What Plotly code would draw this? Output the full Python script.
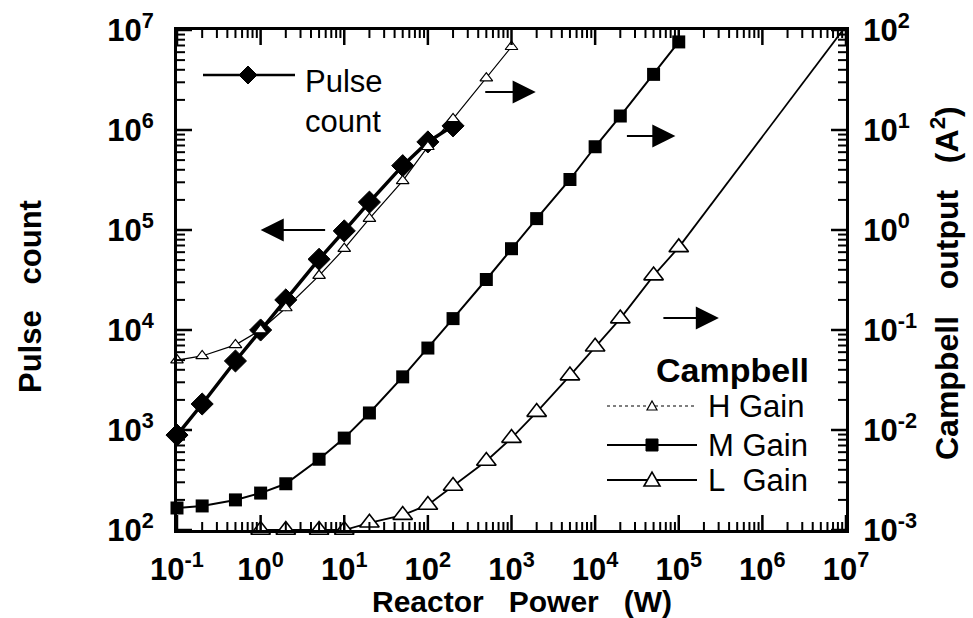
import math
import plotly.graph_objects as go

# ---------------- data ----------------
pulse_power = [0.1, 0.2, 0.5, 1, 2, 5, 10, 20, 50, 100, 200]
pulse_count = [890, 1820, 4900, 10000, 20000, 51000, 98000, 190000, 440000, 760000, 1100000]

h_power = [0.1, 0.2, 0.5, 1, 2, 5, 10, 20, 50, 100, 200, 500, 1000]
h_gain = [0.050, 0.055, 0.071, 0.10, 0.166, 0.35, 0.65, 1.3, 3.1, 6.8, 12.9, 33, 68]

m_power = [0.1, 0.2, 0.5, 1, 2, 5, 10, 20, 50, 100, 200, 500, 1e3, 2e3, 5e3, 1e4, 2e4, 5e4, 1e5]
m_gain = [0.00166, 0.00174, 0.0020, 0.00234, 0.0029, 0.0051, 0.0083, 0.0148, 0.034, 0.066,
          0.13, 0.32, 0.65, 1.3, 3.2, 6.8, 13.8, 36, 76]

l_power = [1, 2, 5, 10, 20, 50, 100, 200, 500, 1e3, 2e3, 5e3, 1e4, 2e4, 5e4, 1e5]
l_gain = [0.001, 0.001, 0.001, 0.001, 0.00118, 0.00141, 0.00178, 0.00275, 0.0049,
          0.0083, 0.0151, 0.035, 0.068, 0.13, 0.35, 0.67]

# straight-line extension of the L gain curve
l_fit_power = [1e5, 1e7]
l_fit_gain = [0.67, 110]

x_ticks = [1e-1, 1e0, 1e1, 1e2, 1e3, 1e4, 1e5, 1e6, 1e7]
x_ticktext = ["10<sup>-1</sup>", "10<sup>0</sup>", "10<sup>1</sup>", "10<sup>2</sup>", "10<sup>3</sup>",
              "10<sup>4</sup>", "10<sup>5</sup>", "10<sup>6</sup>", "10<sup>7</sup>"]
yl_ticks = [1e2, 1e3, 1e4, 1e5, 1e6, 1e7]
yl_ticktext = ["10<sup>2</sup>", "10<sup>3</sup>", "10<sup>4</sup>", "10<sup>5</sup>", "10<sup>6</sup>", "10<sup>7</sup>"]
yr_ticks = [1e-3, 1e-2, 1e-1, 1e0, 1e1, 1e2]
yr_ticktext = ["10<sup>-3</sup>", "10<sup>-2</sup>", "10<sup>-1</sup>", "10<sup>0</sup>", "10<sup>1</sup>", "10<sup>2</sup>"]

X_RANGE, YL_RANGE, YR_RANGE = [-1, 7], [2, 7], [-3, 2]

FONT = "Liberation Sans, Arial, Helvetica, sans-serif"

# plot-area geometry in pixels (for placing the hand-drawn legends / titles)
W, H = 973, 618
ML, MR, MT, MB = 177, 127, 30, 88
PW, PH = W - ML - MR, H - MT - MB


def px(xp):
    return (xp - ML) / PW


def py(yp):
    return (H - MB - yp) / PH


def frac(v, rng):
    return (math.log10(v) - rng[0]) / (rng[1] - rng[0])


def minor_vals(lo, hi):
    return [m * 10 ** e for e in range(lo, hi) for m in range(2, 10)]


fig = go.Figure()

fig.add_trace(go.Scatter(
    x=pulse_power, y=pulse_count, name="Pulse count", mode="lines+markers",
    line=dict(color="black", width=3.5),
    marker=dict(symbol="diamond", size=17, color="black", line=dict(color="black", width=1)),
    yaxis="y", cliponaxis=False, showlegend=False,
))

fig.add_trace(go.Scatter(
    x=m_power, y=m_gain, name="M Gain", mode="lines+markers",
    line=dict(color="black", width=2),
    marker=dict(symbol="square", size=13, color="black"),
    yaxis="y2", cliponaxis=False, showlegend=False,
))

fig.add_trace(go.Scatter(
    x=l_fit_power, y=l_fit_gain, name="L fit", mode="lines",
    line=dict(color="black", width=1.8), showlegend=False, yaxis="y2",
))

fig.add_trace(go.Scatter(
    x=l_power, y=l_gain, name="L Gain", mode="lines+markers",
    line=dict(color="black", width=1.8),
    marker=dict(symbol="triangle-up", size=17, color="white", line=dict(color="black", width=1.6)),
    yaxis="y2", cliponaxis=False, showlegend=False,
))

fig.add_trace(go.Scatter(
    x=h_power, y=h_gain, name="H Gain", mode="lines+markers",
    line=dict(color="black", width=1.2),
    marker=dict(symbol="triangle-up", size=11, color="white", line=dict(color="black", width=1.2)),
    yaxis="y2", cliponaxis=False, showlegend=False,
))

tickfont = dict(family=FONT, size=31, color="black", weight="bold")
axis_style = dict(
    type="log", showgrid=False, zeroline=False, showline=True, linecolor="black", linewidth=3,
    ticks="", tickfont=tickfont, tickmode="array", automargin=False,
)

fig.update_layout(
    width=W, height=H,
    margin=dict(l=ML, r=MR, t=MT, b=MB),
    paper_bgcolor="white", plot_bgcolor="white",
    font=dict(family=FONT, color="black"),
    showlegend=False,
    xaxis=dict(**axis_style, range=X_RANGE, tickvals=x_ticks, ticktext=x_ticktext, mirror=True,
               ticklabelstandoff=10),
    yaxis=dict(**axis_style, range=YL_RANGE, tickvals=yl_ticks, ticktext=yl_ticktext, side="left",
               ticklabelstandoff=14),
    yaxis2=dict(**axis_style, range=YR_RANGE, tickvals=yr_ticks, ticktext=yr_ticktext, side="right",
                overlaying="y", ticklabelstandoff=8),
)

# ---------------- inward tick marks (major long, minor short), paper coordinates ----------------
MAJ, MIN = 15, 8
shapes = []


def xtick(v, length, width):
    f = frac(v, X_RANGE)
    dy = length / PH
    for y0, y1 in ((0, dy), (1, 1 - dy)):
        shapes.append(dict(type="line", xref="paper", yref="paper", x0=f, x1=f, y0=y0, y1=y1,
                           layer="above", line=dict(color="black", width=width)))


def ytick(v, rng, x0, sign, length, width):
    f = frac(v, rng)
    shapes.append(dict(type="line", xref="paper", yref="paper", x0=x0, x1=x0 + sign * length / PW,
                       y0=f, y1=f, layer="above", line=dict(color="black", width=width)))


for v in x_ticks:
    xtick(v, MAJ, 2.5)
for v in minor_vals(-1, 7):
    xtick(v, MIN, 2)
for v in yl_ticks:
    ytick(v, YL_RANGE, 0, 1, MAJ, 2.5)
for v in minor_vals(2, 7):
    ytick(v, YL_RANGE, 0, 1, MIN, 2)
for v in yr_ticks:
    ytick(v, YR_RANGE, 1, -1, MAJ, 2.5)
for v in minor_vals(-3, 2):
    ytick(v, YR_RANGE, 1, -1, MIN, 2)

# ---------------- legends (drawn as key samples + text) ----------------
def key_line(x0, x1, y, width, dash="solid"):
    shapes.append(dict(type="line", xref="paper", yref="paper", x0=px(x0), x1=px(x1), y0=py(y), y1=py(y),
                       line=dict(color="black", width=width, dash=dash)))


def key_marker(xc, yc, path, fill, lw):
    shapes.append(dict(type="path", xref="paper", yref="paper", xsizemode="pixel", ysizemode="pixel",
                       xanchor=px(xc), yanchor=py(yc), path=path, fillcolor=fill,
                       line=dict(color="black", width=lw)))


key_line(203, 295, 75, 2.5)
key_marker(248, 75, "M-9,0 L0,9 L9,0 L0,-9 Z", "black", 1)
key_line(607, 697, 406, 1.2, "dot")
key_marker(652, 406, "M-5,-4 L5,-4 L0,5 Z", "white", 1.2)
key_line(607, 697, 445, 2)
key_marker(652, 445, "M-6,-6 L6,-6 L6,6 L-6,6 Z", "black", 1)
key_line(607, 697, 480, 1.8)
key_marker(652, 480, "M-8,-6 L8,-6 L0,8 Z", "white", 1.6)

fig.update_layout(shapes=shapes)

leg_font = dict(family=FONT, size=31, color="black")
fig.add_annotation(text="Pulse<br>count", xref="paper", yref="paper", x=px(303), y=py(101),
                   xanchor="left", yanchor="middle", align="left", showarrow=False, font=leg_font)
fig.add_annotation(text="Campbell", xref="paper", yref="paper", x=px(732), y=py(370),
                   xanchor="center", yanchor="middle", showarrow=False,
                   font=dict(family=FONT, size=34, color="black", weight="bold"))
for label, yy in [("H Gain", 406), ("M Gain", 445), ("L\u00a0\u00a0Gain", 480)]:
    fig.add_annotation(text=label, xref="paper", yref="paper", x=px(706), y=py(yy),
                       xanchor="left", yanchor="middle", showarrow=False, font=leg_font)

# ---------------- axis titles ----------------
title_font = dict(family=FONT, size=31, color="black", weight="bold")
sp = "\u00a0\u00a0\u00a0"
fig.add_annotation(text="Pulse" + sp + "count", xref="paper", yref="paper", x=px(30), y=py(297),
                   textangle=-90, showarrow=False, font=title_font, xanchor="center", yanchor="middle")
fig.add_annotation(text="Campbell" + sp + "output" + sp + "(A<sup>2</sup>)", xref="paper", yref="paper",
                   x=px(945), y=py(283), textangle=-90, showarrow=False,
                   font=dict(family=FONT, size=32, color="black", weight="bold"),
                   xanchor="center", yanchor="middle")
fig.add_annotation(text="Reactor" + sp + "Power" + sp + "(W)", xref="paper", yref="paper",
                   x=px(522), y=py(601), showarrow=False,
                   font=dict(family=FONT, size=30, color="black", weight="bold"),
                   xanchor="center", yanchor="middle")

# ---------------- direction arrows ----------------
arrow_style = dict(showarrow=True, text="", arrowhead=2, arrowsize=2.1, arrowwidth=2.2,
                   arrowcolor="black", ay=0, xref="x", yref="y")
fig.add_annotation(x=0.0, y=5.0, ax=66, **arrow_style)
fig.add_annotation(x=3.29, y=6.38, ax=-52, **arrow_style)
fig.add_annotation(x=4.96, y=5.94, ax=-50, **arrow_style)
fig.add_annotation(x=5.48, y=4.12, ax=-57, **arrow_style)

fig.write_html("out.html")
